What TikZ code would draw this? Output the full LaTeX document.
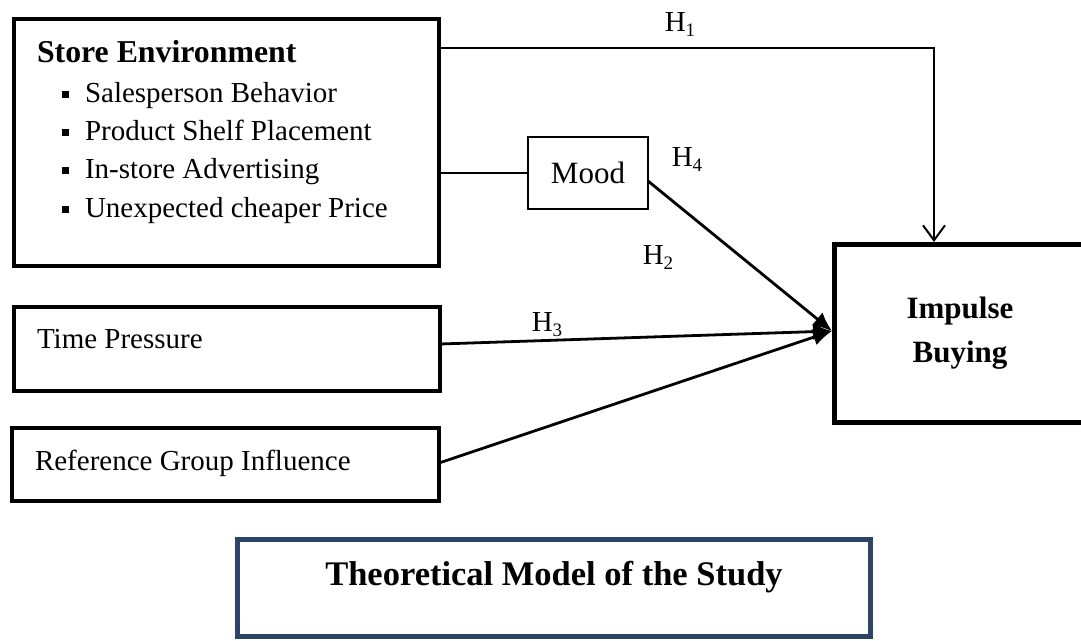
\documentclass[tikz,border=0pt]{standalone}
\usepackage{fontspec}
\setmainfont{Liberation Serif}
\usetikzlibrary{arrows.meta}
\definecolor{titleblue}{HTML}{2B4468}
\newcommand{\sqbullet}{\makebox[23pt][l]{\rule[4.5pt]{7pt}{7pt}}}
\newcommand{\hyp}[1]{H\raisebox{-5pt}{\fontsize{19}{20}\selectfont #1}}
\tikzset{
  box/.style={draw=black, line width=4pt, inner sep=0pt, outer sep=0pt, fill=white},
  thinbox/.style={draw=black, line width=2pt, inner sep=0pt, outer sep=0pt, fill=white},
  txt/.style={inner sep=0pt, outer sep=0pt, anchor=base west, font=\fontsize{29}{35}\selectfont},
  boldtxt/.style={inner sep=0pt, outer sep=0pt, anchor=base west, font=\fontsize{31.8}{36}\selectfont\bfseries},
  hlabel/.style={inner sep=0pt, font=\fontsize{29}{35}\selectfont},
  arrowlink/.style={draw=black, line width=2.8pt, -{Latex[length=19pt,width=17pt]}},
  thinlink/.style={draw=black, line width=2pt}
}
\begin{document}
\begin{tikzpicture}[x=1pt,y=-1pt]
\clip (0,0) rectangle (1081,640);
\fill[white] (0,0) rectangle (1081,640);

% boxes
\node[box, minimum width=425pt, minimum height=247pt] (store) at (226.5,142.5) {};
\node[thinbox, minimum width=120pt, minimum height=72pt, font=\fontsize{31}{36}\selectfont] (mood) at (588,173) {Mood};
\node[box, line width=5pt, minimum width=251pt, minimum height=178pt, align=center,
      font=\fontsize{31}{44}\selectfont\bfseries] (imp) at (960,333.5) {Impulse\\Buying};
\node[box, minimum width=426pt, minimum height=84pt] (time) at (227,349) {};
\node[box, minimum width=427pt, minimum height=73pt] (ref) at (225.5,464.5) {};
\node[box, draw=titleblue, line width=5pt, minimum width=633pt, minimum height=96.5pt] (titlebox) at (554,587.75) {};

% texts
\node[boldtxt] (storetitle) at (37,62) {Store Environment};
\node[txt] (s1) at (62,102) {\sqbullet Salesperson Behavior};
\node[txt] (s2) at (62,140) {\sqbullet Product Shelf Placement};
\node[txt] (s3) at (62,178.5) {\sqbullet In-store Advertising};
\node[txt] (s4) at (62,217) {\sqbullet Unexpected cheaper Price};
\node[txt] (timetxt) at (37,348) {Time Pressure};
\node[txt] (reftxt) at (35,470) {Reference Group Influence};
\node[inner sep=0pt, anchor=base, font=\fontsize{34.5}{40}\selectfont\bfseries] (title) at (554,585) {Theoretical Model of the Study};

% connectors
\coordinate (h1corner) at (934,48);
\coordinate (tip) at (832,331);
\draw[thinlink, line width=2.5pt, -{Straight Barb[length=15pt,width=22pt,line width=2pt]}]
  (store.east |- h1corner) -- (h1corner) -- ([yshift=2.5pt]h1corner |- imp.north);
\draw[thinlink] (mood.west -| store.east) -- (mood.west);
\draw[arrowlink] ([yshift=-8pt]mood.east) -- (tip);
\draw[arrowlink] ([yshift=5pt]time.east) -- (tip);
\draw[arrowlink] ([yshift=1.5pt]ref.east) -- (tip);

% hypothesis labels
\node[hlabel] (h1) at (680,25) {\hyp{1}};
\node[hlabel] (h4) at (687,160) {\hyp{4}};
\node[hlabel] (h2) at (658,258) {\hyp{2}};
\node[hlabel] (h3) at (547,325) {\hyp{3}};
\end{tikzpicture}
\end{document}
